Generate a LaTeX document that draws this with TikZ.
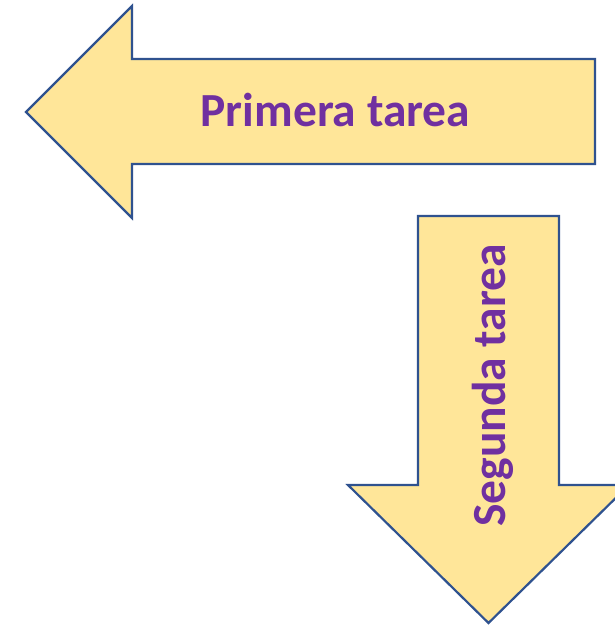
\documentclass[tikz,border=0pt]{standalone}
\usepackage{fontspec}
\setmainfont{Carlito}
\definecolor{arrowfill}{HTML}{FFE699}
\definecolor{arrowline}{HTML}{2F528F}
\definecolor{labeltext}{HTML}{7030A0}
\begin{document}
\begin{tikzpicture}[x=1pt,y=-1pt,
  arrowshape/.style={fill=arrowfill,draw=arrowline,line width=2.2pt,line join=miter},
  arrowlabel/.style={text=labeltext,font=\fontsize{47.5}{52}\selectfont\bfseries,inner sep=0pt}]
\clip (0,0) rectangle (615,625);
% left arrow
\draw[arrowshape] (26,112) -- (132,6) -- (132,59) -- (595,59) -- (595,164) -- (132,164) -- (132,218) -- cycle;
% down arrow
\draw[arrowshape] (418,216) -- (559,216) -- (559,485) -- (629,485) -- (488.5,623) -- (348,485) -- (418,485) -- cycle;
\node[arrowlabel,anchor=base] (primera) at (335.5,126.5) {Primera tarea};
\node[arrowlabel,anchor=base,rotate=90] (segunda) at (505,385.5) {Segunda tarea};
\end{tikzpicture}
\end{document}
